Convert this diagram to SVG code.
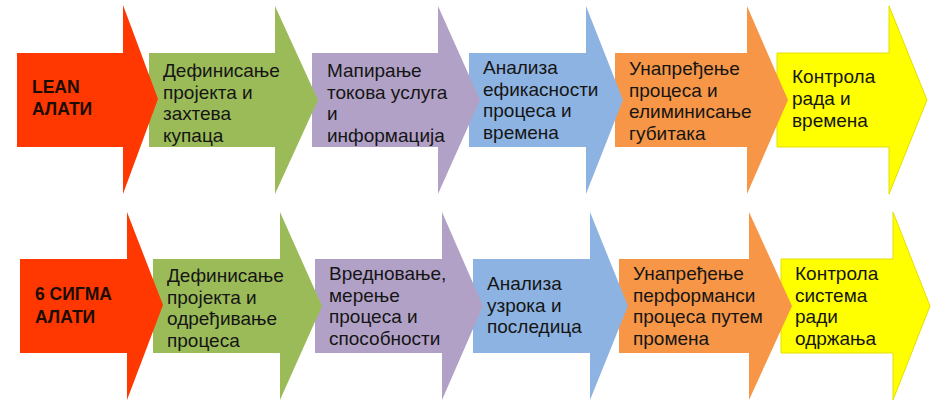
<svg xmlns="http://www.w3.org/2000/svg" width="940" height="410" viewBox="0 0 940 410">
  <style>
    .t { font-family: "Liberation Sans", Arial, sans-serif; font-size: 19px; fill: #151515; }
    .b { font-family: "Liberation Sans", Arial, sans-serif; font-size: 17.5px; font-weight: bold; fill: #1a0d05; }
    .red { fill: #FF3700; }
    .green { fill: #9BBB59; }
    .purple { fill: #B2A1C7; }
    .blue { fill: #8DB3E2; }
    .orange { fill: #F79646; }
    .yellow { fill: #FFFF00; stroke: #E3E000; stroke-width: 1; }
  </style>
  <rect width="940" height="410" fill="#FFFFFF"/>

  <!-- Row 1: LEAN (drawn right to left so each tip overlaps the next arrow) -->
  <g id="lean-6-control">
    <polygon class="yellow" points="777,53 889,53 889,6 927,100 889,194 889,147 777,147"/>
    <text class="t" x="792" y="83">Контрола</text>
    <text class="t" x="792" y="105">рада и</text>
    <text class="t" x="792" y="127">времена</text>
  </g>
  <g id="lean-5-improve">
    <polygon class="orange" points="615,53 747,53 747,6 788,100 747,194 747,147 615,147"/>
    <text class="t" x="629" y="75">Унапређење</text>
    <text class="t" x="629" y="96.5">процеса и</text>
    <text class="t" x="629" y="118">елиминисање</text>
    <text class="t" x="629" y="139.5">губитака</text>
  </g>
  <g id="lean-4-analyze">
    <polygon class="blue" points="469,53 586,53 586,6 623,100 586,194 586,147 469,147"/>
    <text class="t" x="483" y="74">Анализа</text>
    <text class="t" x="483" y="95.5">ефикасности</text>
    <text class="t" x="483" y="117">процеса и</text>
    <text class="t" x="483" y="138.5">времена</text>
  </g>
  <g id="lean-3-map">
    <polygon class="purple" points="312,53 438,53 438,6 480,100 438,194 438,147 312,147"/>
    <text class="t" x="327" y="77">Мапирање</text>
    <text class="t" x="327" y="98.5">токова услуга</text>
    <text class="t" x="327" y="120">и</text>
    <text class="t" x="327" y="141.5">информација</text>
  </g>
  <g id="lean-2-define">
    <polygon class="green" points="149,53 275,53 275,6 318,100 275,194 275,147 149,147"/>
    <text class="t" x="163" y="77">Дефинисање</text>
    <text class="t" x="163" y="98.5">пројекта и</text>
    <text class="t" x="163" y="120">захтева</text>
    <text class="t" x="163" y="141.5">купаца</text>
  </g>
  <g id="lean-1-title">
    <polygon class="red" points="17,53 123,53 123,5 158,99 123,194 123,147 17,147"/>
    <text class="b" x="32" y="93">LEAN</text>
    <text class="b" x="32" y="115">АЛАТИ</text>
  </g>

  <!-- Row 2: 6 SIGMA -->
  <g id="sigma-6-control">
    <polygon class="yellow" points="781,259 893,259 893,212 930,306 893,400 893,353 781,353"/>
    <text class="t" x="795" y="280">Контрола</text>
    <text class="t" x="795" y="301.5">система</text>
    <text class="t" x="795" y="323">ради</text>
    <text class="t" x="795" y="344.5">одржања</text>
  </g>
  <g id="sigma-5-improve">
    <polygon class="orange" points="619,259 749,259 749,212 792,306 749,400 749,353 619,353"/>
    <text class="t" x="633" y="280">Унапређење</text>
    <text class="t" x="633" y="301.5">перформанси</text>
    <text class="t" x="633" y="323">процеса путем</text>
    <text class="t" x="633" y="344.5">промена</text>
  </g>
  <g id="sigma-4-analyze">
    <polygon class="blue" points="473,259 590,259 590,212 628,306 590,400 590,353 473,353"/>
    <text class="t" x="487" y="290">Анализа</text>
    <text class="t" x="487" y="311.5">узрока и</text>
    <text class="t" x="487" y="333">последица</text>
  </g>
  <g id="sigma-3-measure">
    <polygon class="purple" points="315,259 442,259 442,212 483,306 442,400 442,353 315,353"/>
    <text class="t" x="329" y="280">Вредновање,</text>
    <text class="t" x="329" y="301.5">мерење</text>
    <text class="t" x="329" y="323">процеса и</text>
    <text class="t" x="329" y="344.5">способности</text>
  </g>
  <g id="sigma-2-define">
    <polygon class="green" points="153,259 280,259 280,212 322,306 280,400 280,353 153,353"/>
    <text class="t" x="167" y="282">Дефинисање</text>
    <text class="t" x="167" y="303.5">пројекта и</text>
    <text class="t" x="167" y="325">одређивање</text>
    <text class="t" x="167" y="346.5">процеса</text>
  </g>
  <g id="sigma-1-title">
    <polygon class="red" points="20,259 127,259 127,212 163,305 127,400 127,353 20,353"/>
    <text class="b" x="35" y="300">6 СИГМА</text>
    <text class="b" x="35" y="323">АЛАТИ</text>
  </g>
</svg>
